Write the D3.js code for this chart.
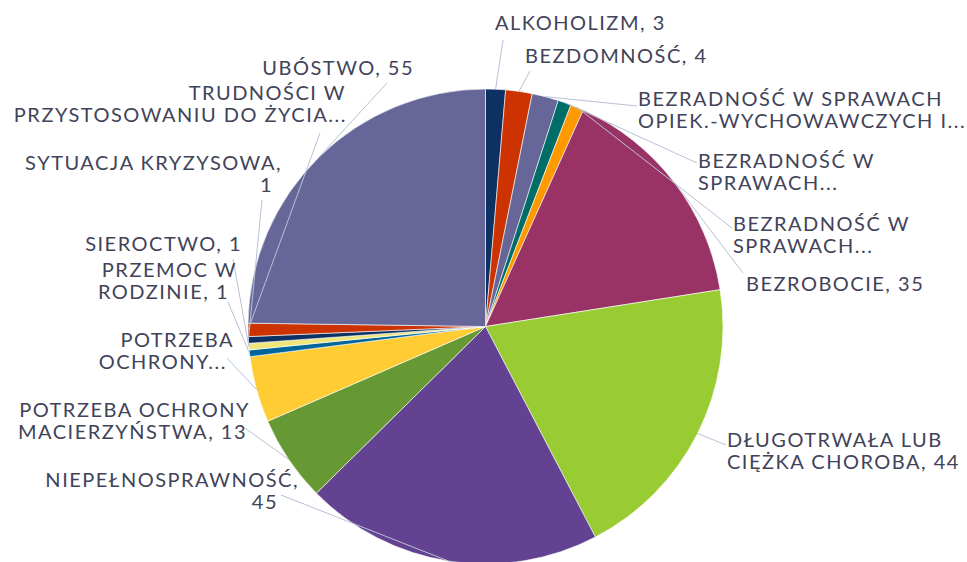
<!DOCTYPE html>
<html><head><meta charset="utf-8">
<script src="https://cdn.jsdelivr.net/npm/d3@7"></script>
<style>
body{margin:0;background:#fff}
text{font-family:Lato,sans-serif;font-size:20px;letter-spacing:1.5px;fill:#414359}
</style>
</head><body>
<svg id="chart" width="967" height="562"></svg>
<script>
/*---------- DATA ----------*/

const categories = ["ALKOHOLIZM", "BEZDOMNOŚĆ",
    "BEZRADNOŚĆ W SPRAWACH OPIEKUŃCZO-WYCHOWAWCZYCH I PROWADZENIA GOSPODARSTWA DOMOWEGO",
    "BEZRADNOŚĆ W SPRAWACH OPIEKUŃCZO-WYCHOWAWCZYCH - RODZINA NIEPEŁNA",
    "BEZRADNOŚĆ W SPRAWACH OPIEKUŃCZO-WYCHOWAWCZYCH - RODZINA WIELODZIETNA",
    "BEZROBOCIE", "DŁUGOTRWAŁA LUB CIĘŻKA CHOROBA", "NIEPEŁNOSPRAWNOŚĆ",
    "POTRZEBA OCHRONY MACIERZYŃSTWA", "POTRZEBA OCHRONY MACIERZYŃSTWA - WIELODZIETNOŚĆ",
    "PRZEMOC W RODZINIE", "SIEROCTWO", "SYTUACJA KRYZYSOWA",
    "TRUDNOŚCI W PRZYSTOSOWANIU DO ŻYCIA PO ZWOLNIENIU Z ZAKŁADU KARNEGO", "UBÓSTWO"];
const values = [3, 4, 4, 2, 2, 35, 44, 45, 13, 10, 1, 1, 1, 2, 55];

// label text as shown (Excel truncates the long ones)
const labelLines = [
    ["ALKOHOLIZM, 3"],
    ["BEZDOMNOŚĆ, 4"],
    ["BEZRADNOŚĆ W SPRAWACH", "OPIEK.-WYCHOWAWCZYCH I..."],
    ["BEZRADNOŚĆ W", "SPRAWACH..."],
    ["BEZRADNOŚĆ W", "SPRAWACH..."],
    ["BEZROBOCIE, 35"],
    ["DŁUGOTRWAŁA LUB", "CIĘŻKA CHOROBA, 44"],
    ["NIEPEŁNOSPRAWNOŚĆ,", "45"],
    ["POTRZEBA OCHRONY", "MACIERZYŃSTWA, 13"],
    ["POTRZEBA", "OCHRONY..."],
    ["PRZEMOC W", "RODZINIE, 1"],
    ["SIEROCTWO, 1"],
    ["SYTUACJA KRYZYSOWA,", "1"],
    ["TRUDNOŚCI W", "PRZYSTOSOWANIU DO ŻYCIA..."],
    ["UBÓSTWO, 55"]
];

const colors = ["#0c3162", "#cc3300", "#666699", "#006d68", "#ff9900", "#993366",
    "#99cc33", "#634291", "#669933", "#ffcc33", "#006699", "#eee67a",
    "#0c3162", "#cc3300", "#666699"];

/*---------- LAYOUT ----------*/

const CENTER = {X: 485.5, Y: 326.5};
const RADIUS = 237.5;
const LINE_H = 21.5;

// label placement: text x, first baseline, anchor, shift of the 2nd line, leader end point
const labelPos = [
    {x: 495, y: 30,  a: "start", dx: 0,   lx: 503, ly: 40},
    {x: 525, y: 63,  a: "start", dx: 0,   lx: 530, ly: 71},
    {x: 638, y: 106, a: "start", dx: 0,   lx: 637, ly: 106},
    {x: 698, y: 168, a: "start", dx: 0,   lx: 697, ly: 163},
    {x: 733, y: 231, a: "start", dx: 0,   lx: 732, ly: 228},
    {x: 746, y: 291, a: "start", dx: 0,   lx: 743, ly: 273},
    {x: 727, y: 447, a: "start", dx: 0,   lx: 726, ly: 445},
    {x: 299, y: 487, a: "end",   dx: -21, lx: 281, ly: 495},
    {x: 250, y: 417, a: "end",   dx: -3,  lx: 245, ly: 428},
    {x: 234, y: 347, a: "end",   dx: -7,  lx: 227, ly: 358},
    {x: 237, y: 277, a: "end",   dx: -8,  lx: 228, ly: 302},
    {x: 242, y: 251, a: "end",   dx: 0,   lx: 233, ly: 259},
    {x: 282, y: 170, a: "end",   dx: -9,  lx: 262, ly: 200},
    {x: 346, y: 100, a: "end",   dx: 1,   lx: 320, ly: 133},
    {x: 414, y: 75,  a: "end",   dx: 0,   lx: 387, ly: 83}
];

/*---------- D3 STUFF ----------*/

const svg = d3.select("#chart");

const pie = d3.pie().sort(null).value(d => d);
const arcs = pie(values);

const arc = d3.arc().innerRadius(0).outerRadius(RADIUS);

const graph = svg.append("g")
    .attr("transform", `translate(${CENTER.X}, ${CENTER.Y})`);

graph.selectAll("path.slice")
    .data(arcs)
    .enter().append("path")
    .attr("class", "slice")
    .attr("d", arc)
    .attr("fill", (d, i) => colors[i])
    .attr("stroke", "#fff")
    .attr("stroke-width", 0.6);

//leader lines from the slice edge to the label
svg.selectAll("line.leader")
    .data(arcs)
    .enter().append("line")
    .attr("class", "leader")
    .attr("x1", d => CENTER.X + RADIUS * Math.sin((d.startAngle + d.endAngle) / 2))
    .attr("y1", d => CENTER.Y - RADIUS * Math.cos((d.startAngle + d.endAngle) / 2))
    .attr("x2", (d, i) => labelPos[i].lx)
    .attr("y2", (d, i) => labelPos[i].ly)
    .attr("stroke", "#b7c2d6")
    .attr("stroke-width", 1);

//labels, one text per line
labelLines.forEach((lines, i) => {
    const p = labelPos[i];
    lines.forEach((t, j) => {
        svg.append("text")
            .attr("class", "label")
            .attr("text-anchor", p.a)
            .attr("x", p.x + (j > 0 ? p.dx : 0))
            .attr("y", p.y + j * LINE_H)
            .text(t);
    });
});
</script>
</body></html>
